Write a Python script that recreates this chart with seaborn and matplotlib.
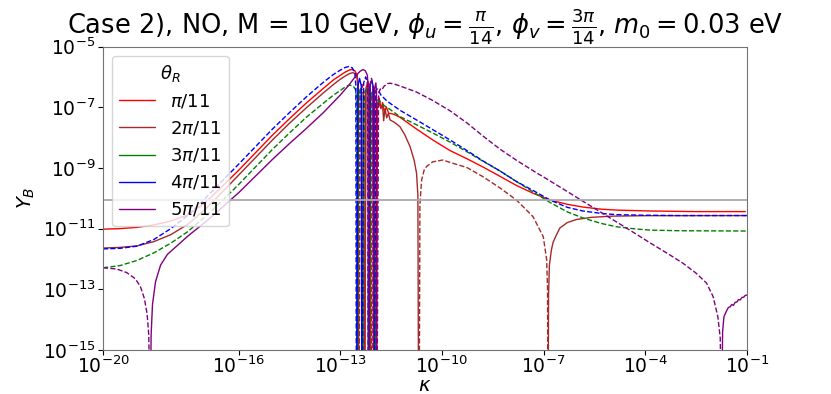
import numpy as np
import matplotlib
matplotlib.use("Agg")
import matplotlib.pyplot as plt
import seaborn as sns

# curves: log10(kappa), log10|Y_B|; sign of Y_B flips at the listed kappa exponents
# positive Y_B is drawn solid, negative Y_B dashed (|Y_B|)
lk_red = [-20, -19.5, -19, -18.5, -18, -17.5, -17, -16.5, -16, -15.5, -15, -14.5, -14, -13.5, -13.2, -13, -12.85, -12.72, -12.65, -12.57, -12.5, -12.47, -12.455,
          -12.445, -12.41, -12.36, -12.31, -12.285,
          -12.275, -12.24, -12.18, -12.12, -12.095,
          -12.085, -12.05, -12.0, -11.96, -11.945,
          -11.935, -11.9, -11.85, -11.8, -11.75, -11.7, -11.64, -11.57, -11.45, -11.24, -10.75, -10.27, -9.76, -9.26, -8.79, -8.3, -7.8, -7.3, -6.81, -6.3, -5.84, -5.3, -4.85, -3.87, -2.5, -1.05]
ly_red = [-11.02, -11.0, -10.96, -10.88, -10.75, -10.55, -10.16, -9.63, -9.08, -8.5, -7.92, -7.38, -6.86, -6.38, -6.1, -5.95, -5.84, -5.77, -5.76, -5.8, -5.95, -6.4, -17,
          -17, -6.5, -6.25, -6.45, -17,
          -17, -6.35, -6.15, -6.4, -17,
          -17, -6.5, -6.35, -6.7, -17,
          -17, -6.95, -6.7, -7.05, -6.85, -7.15, -7.0, -7.2, -7.22, -7.33, -7.72, -8.08, -8.43, -8.7, -8.97, -9.27, -9.58, -9.84, -10.06, -10.2, -10.29, -10.36, -10.39, -10.42, -10.44, -10.44]
flips_red = [-12.45, -12.28, -12.09, -11.94]

lk_brown = [-20, -19.5, -19, -18.5, -18, -17.5, -17, -16.5, -16, -15.5, -15, -14.5, -14, -13.5, -13.2, -13, -12.85, -12.72, -12.63, -12.55, -12.5, -12.47, -12.465,
            -12.455, -12.42, -12.36, -12.31, -12.295,
            -12.285, -12.25, -12.19, -12.14, -12.125,
            -12.115, -12.08, -12.03, -11.99, -11.975,
            -11.965, -11.93, -11.87, -11.81, -11.75, -11.72, -11.68, -11.63, -11.58, -11.53, -11.4, -11.24, -11.1, -10.94, -10.82, -10.75, -10.71, -10.69,
            -10.67, -10.65, -10.6, -10.52, -10.45, -10.27, -9.97, -9.76, -9.26, -8.79, -8.3, -7.8, -7.31, -7.01, -6.91, -6.885, -6.875,
            -6.865, -6.855, -6.83, -6.77, -6.72, -6.62, -6.52, -6.3, -6.03, -5.6, -5.0, -4.0, -1.0]
ly_brown = [-11.64, -11.62, -11.57, -11.43, -11.2, -10.86, -10.38, -9.82, -9.24, -8.66, -8.08, -7.53, -7.02, -6.53, -6.25, -6.08, -5.97, -5.89, -5.86, -5.9, -6.05, -6.5, -17,
            -17, -6.6, -6.4, -6.65, -17,
            -17, -6.5, -6.3, -6.55, -17,
            -17, -6.6, -6.45, -6.7, -17,
            -17, -6.95, -6.8, -7.0, -6.95, -7.45, -7.05, -7.35, -7.2, -7.42, -7.5, -7.64, -7.9, -8.3, -8.75, -9.17, -9.9, -17,
            -17, -10.2, -9.4, -9.05, -8.95, -8.8, -8.74, -8.82, -8.99, -9.29, -9.65, -10.06, -10.61, -11.27, -12.03, -13.0, -17,
            -17, -13.2, -12.2, -11.7, -11.45, -11.2, -10.98, -10.8, -10.7, -10.63, -10.59, -10.575, -10.57]
flips_brown = [-12.46, -12.29, -12.12, -11.97, -10.68, -6.87]

lk_green = [-20, -19.5, -19, -18.5, -18, -17.5, -17, -16.5, -16, -15.5, -15, -14.5, -14, -13.5, -13.2, -13, -12.85, -12.73, -12.62, -12.55, -12.52, -12.505,
            -12.495, -12.46, -12.41, -12.36, -12.335,
            -12.325, -12.29, -12.23, -12.17, -12.145,
            -12.135, -12.1, -12.05, -12.0, -11.975,
            -11.965, -11.93, -11.88, -11.8, -11.7, -11.5, -11.24, -10.75, -10.27, -9.76, -9.26, -8.79, -8.29, -7.8, -7.3, -6.81, -6.3, -5.84, -5.3, -4.85, -4.3, -3.86, -3.0, -1.0]
ly_green = [-12.29, -12.22, -12.05, -11.8, -11.48, -11.1, -10.62, -10.1, -9.55, -8.97, -8.39, -7.85, -7.33, -6.87, -6.6, -6.45, -6.33, -6.27, -6.3, -6.42, -6.7, -17,
            -17, -6.6, -6.4, -6.65, -17,
            -17, -6.55, -6.4, -6.6, -17,
            -17, -6.6, -6.5, -6.75, -17,
            -17, -6.85, -6.75, -6.85, -6.95, -7.1, -7.31, -7.58, -7.85, -8.15, -8.47, -8.78, -9.1, -9.45, -9.8, -10.14, -10.45, -10.65, -10.83, -10.94, -11.01, -11.05, -11.07, -11.08]
flips_green = [-12.5, -12.33, -12.14, -11.97]

lk_blue = [-20, -19.5, -19, -18.5, -18, -17.5, -17, -16.5, -16, -15.5, -15, -14.5, -14, -13.5, -13.2, -13, -12.85, -12.75, -12.65, -12.57, -12.54, -12.525,
           -12.515, -12.48, -12.43, -12.38, -12.365,
           -12.355, -12.31, -12.25, -12.19, -12.175,
           -12.165, -12.12, -12.07, -12.02, -12.005,
           -11.995, -11.95, -11.9, -11.8, -11.62, -11.24, -10.75, -10.27, -9.76, -9.26, -8.79, -8.29, -7.8, -7.3, -6.81, -6.3, -5.84, -5.3, -4.85, -4.0, -3.0, -1.0]
ly_blue = [-11.67, -11.65, -11.58, -11.36, -11.0, -10.57, -10.02, -9.45, -8.88, -8.3, -7.72, -7.18, -6.66, -6.18, -5.92, -5.78, -5.69, -5.66, -5.7, -5.85, -6.3, -17,
           -17, -6.3, -6.05, -6.3, -17,
           -17, -6.2, -6.0, -6.25, -17,
           -17, -6.3, -6.1, -6.35, -17,
           -17, -6.45, -6.4, -6.6, -6.8, -7.1, -7.42, -7.74, -8.08, -8.43, -8.77, -9.1, -9.45, -9.75, -10.06, -10.3, -10.42, -10.5, -10.54, -10.56, -10.57, -10.57]
flips_blue = [-12.52, -12.36, -12.17, -12.0]

lk_purple = [-20, -19.6, -19.3, -19.05, -18.9, -18.78, -18.7, -18.65, -18.615,
             -18.605, -18.58, -18.54, -18.45, -18.3, -18.1, -17.8, -17.5, -17, -16.5, -16, -15.5, -15, -14.5, -14, -13.5, -13, -12.75, -12.55, -12.42, -12.33, -12.26, -12.2, -12.18, -12.175,
             -12.165, -12.13, -12.08, -12.04, -12.035,
             -12.025, -11.99, -11.95, -11.93, -11.925,
             -11.915, -11.87, -11.82, -11.78, -11.7, -11.6, -11.53, -11.4, -11.24, -10.75, -10.27, -9.76, -9.26, -8.79, -8.29, -7.8, -7.3, -6.81, -6.3, -5.84, -5.3, -4.85, -4.3, -3.86, -3.3, -2.89, -2.5, -2.19, -2.0, -1.86, -1.79, -1.755,
             -1.745, -1.72, -1.68, -1.62, -1.55, -1.5, -1.45, -1.4, -1.35, -1.3, -1.25, -1.2, -1.15, -1.1, -1.05, -1.0]
ly_purple = [-12.29, -12.33, -12.45, -12.65, -12.9, -13.3, -13.8, -14.5, -17,
             -17, -14.5, -13.5, -12.75, -12.2, -11.85, -11.55, -11.25, -10.8, -10.32, -9.82, -9.27, -8.72, -8.2, -7.7, -7.18, -6.6, -6.28, -5.98, -5.82, -5.76, -5.8, -5.95, -6.3, -17,
             -17, -6.3, -6.05, -6.35, -17,
             -17, -6.4, -6.2, -6.5, -17,
             -17, -6.55, -6.4, -6.43, -6.3, -6.22, -6.21, -6.24, -6.3, -6.5, -6.78, -7.12, -7.52, -7.95, -8.38, -8.75, -9.1, -9.43, -9.78, -10.1, -10.47, -10.78, -11.16, -11.47, -11.85, -12.14, -12.47, -12.8, -13.24, -13.9, -14.6, -17,
             -17, -14.4, -13.9, -13.75, -13.6, -13.58, -13.5, -13.53, -13.43, -13.42, -13.34, -13.35, -13.27, -13.26, -13.2, -13.19]
flips_purple = [-18.61, -12.17, -12.03, -11.92, -1.75]

labels = [r"$\pi/11$", r"$2\pi/11$", r"$3\pi/11$", r"$4\pi/11$", r"$5\pi/11$"]
colors = ["red", "brown", "green", "blue", "purple"]
start_signs = [1, 1, -1, -1, -1]
Y_obs = 8.7e-11
xtick_exp = [-20, -16, -13, -10, -7, -4, -1]
ytick_exp = [-15, -13, -11, -9, -7, -5]

sns.set_style("ticks")
plt.rcParams["font.family"] = ["DejaVu Sans"]
plt.rcParams["text.color"] = "black"
plt.rcParams["axes.labelcolor"] = "black"
plt.rcParams["xtick.color"] = "black"
plt.rcParams["ytick.color"] = "black"

fig = plt.figure(figsize=(8.31, 3.94), dpi=100)
ax = fig.add_axes([103 / 831, 1 - 350 / 394, (747 - 103) / 831, (350 - 46.5) / 394])
ax.set_xscale("log")
ax.set_yscale("log")


def draw_curve(lk, ly, flips, s0, color, label):
    lk = np.asarray(lk, float)
    ly = np.asarray(ly, float)
    sign = s0 * (-1.0) ** np.searchsorted(flips, lk)
    edges = np.flatnonzero(np.diff(sign)) + 1
    done = False
    for seg in np.split(np.arange(len(lk)), edges):
        pos = sign[seg[0]] > 0
        lab = None
        if pos and not done:
            lab, done = label, True
        sns.lineplot(x=10 ** lk[seg], y=10 ** ly[seg], ax=ax, color=color, lw=1.0,
                     linestyle="-" if pos else "--", label=lab,
                     estimator=None, sort=False)


curves = [(lk_red, ly_red, flips_red), (lk_brown, ly_brown, flips_brown),
          (lk_green, ly_green, flips_green), (lk_blue, ly_blue, flips_blue),
          (lk_purple, ly_purple, flips_purple)]
for (lk, ly, fl), c, s0, lab in zip(curves, colors, start_signs, labels):
    draw_curve(lk, ly, fl, s0, c, lab)

ax.axhline(Y_obs, color="darkgray", lw=1.3)

ax.set_xlim(1e-20, 1e-1)
ax.set_ylim(1e-15, 1e-5)
ax.set_xticks([10.0 ** e for e in xtick_exp])
ax.set_yticks([10.0 ** e for e in ytick_exp])
ax.xaxis.set_minor_locator(matplotlib.ticker.NullLocator())
ax.yaxis.set_minor_locator(matplotlib.ticker.NullLocator())
ax.tick_params(labelsize=13.5, pad=2)
ax.tick_params(axis="x", pad=0.5)
for sp in ax.spines.values():
    sp.set_color("0.45")
ax.set_xlabel(r"$\kappa$", fontsize=14, labelpad=-1)
ax.set_ylabel(r"$Y_B$", fontsize=14)
ax.set_title(r"Case 2), NO, M = 10 GeV, $\phi_u = \frac{\pi}{14}$, $\phi_v = \frac{3\pi}{14}$, $m_0 = 0.03$ eV",
             fontsize=18.5, pad=4)
ax.legend(title=r"$\theta_R$", loc="upper left", fontsize=13, title_fontsize=13)

fig.savefig("out.png", dpi=100)
